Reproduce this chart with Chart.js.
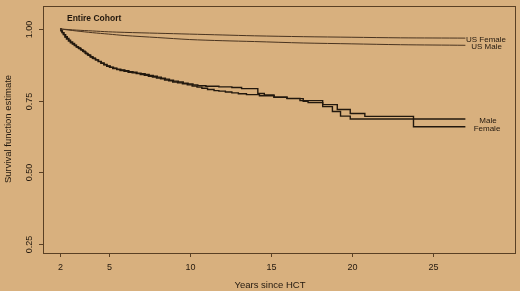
<!DOCTYPE html>
<html>
<head>
<meta charset="utf-8">
<script src="https://cdn.jsdelivr.net/npm/chart.js@4"></script>
<style>
  html, body { margin: 0; padding: 0; background: #D8B07E; }
  #wrap { width: 520px; height: 291px; }
</style>
</head>
<body>
<div id="wrap"><canvas id="survChart" width="520" height="291"></canvas></div>
<script>
// Kaplan-Meier estimates
const femaleYears = [2.00, 2.08, 2.15, 2.25, 2.35, 2.45, 2.55, 2.65, 2.78, 2.90, 3.02, 3.15, 3.30, 3.45, 3.60, 3.75, 3.90, 4.05, 4.20, 4.38, 4.55, 4.72, 4.90, 5.10, 5.30, 5.50, 5.75, 6.00, 6.25, 6.50, 6.75, 7.00, 7.25, 7.50, 7.75, 8.00, 8.25, 8.50, 8.75, 9.00, 9.30, 9.60, 9.90, 10.20, 10.50, 11.00, 11.80, 12.60, 13.20, 14.20, 14.60, 15.20, 16.00, 16.80, 18.20, 19.10, 19.90, 20.80, 23.80, 27.00];
const femaleSurv  = [1.000, 0.993, 0.987, 0.980, 0.973, 0.967, 0.961, 0.955, 0.949, 0.943, 0.937, 0.932, 0.926, 0.920, 0.913, 0.908, 0.902, 0.897, 0.892, 0.887, 0.881, 0.876, 0.871, 0.867, 0.863, 0.860, 0.857, 0.854, 0.851, 0.849, 0.846, 0.844, 0.841, 0.838, 0.835, 0.832, 0.828, 0.825, 0.821, 0.818, 0.815, 0.811, 0.808, 0.805, 0.802, 0.800, 0.798, 0.796, 0.792, 0.775, 0.770, 0.762, 0.758, 0.750, 0.736, 0.719, 0.705, 0.695, 0.659, 0.659];

const maleYears = [2.00, 2.05, 2.12, 2.20, 2.30, 2.40, 2.52, 2.64, 2.76, 2.88, 3.00, 3.12, 3.26, 3.40, 3.55, 3.70, 3.85, 4.00, 4.18, 4.35, 4.52, 4.70, 4.88, 5.05, 5.25, 5.50, 5.70, 5.95, 6.20, 6.45, 6.70, 6.95, 7.20, 7.45, 7.70, 7.95, 8.20, 8.45, 8.70, 8.95, 9.25, 9.55, 9.85, 10.15, 10.45, 10.75, 11.10, 11.50, 11.80, 12.20, 12.60, 13.00, 13.50, 14.30, 15.20, 16.00, 17.00, 17.30, 18.20, 18.80, 19.30, 19.90, 27.00];
const maleSurv  = [1.000, 0.994, 0.987, 0.980, 0.972, 0.965, 0.958, 0.952, 0.947, 0.942, 0.938, 0.934, 0.928, 0.922, 0.915, 0.909, 0.903, 0.898, 0.892, 0.886, 0.880, 0.875, 0.870, 0.866, 0.862, 0.858, 0.855, 0.852, 0.849, 0.847, 0.844, 0.841, 0.838, 0.835, 0.832, 0.829, 0.826, 0.822, 0.819, 0.815, 0.812, 0.809, 0.805, 0.801, 0.797, 0.793, 0.789, 0.785, 0.783, 0.780, 0.777, 0.774, 0.771, 0.767, 0.762, 0.757, 0.748, 0.743, 0.729, 0.712, 0.696, 0.686, 0.686];

// expected survival of the US general population
const usYears  = [2, 3, 4, 5, 6, 8, 10, 12, 14, 17, 20, 23, 27];
const usFemale = [1.000, 0.996, 0.993, 0.990, 0.988, 0.985, 0.982, 0.979, 0.976, 0.973, 0.971, 0.969, 0.968];
const usMale   = [1.000, 0.993, 0.987, 0.982, 0.977, 0.970, 0.963, 0.959, 0.956, 0.951, 0.948, 0.945, 0.943];

// axis ticks
const xTicks = [2, 5, 10, 15, 20, 25];
const yTicks = [0.25, 0.50, 0.75, 1.00];

const ink = '#22180e';
const boxColor = '#5a4024';

function toPoints(xs, ys) {
    return xs.map((x, i) => ({ x: x, y: ys[i] }));
}

// R-style box, ticks and labels drawn from the chart scales
const rAxes = {
    id: 'rAxes',
    beforeDraw(chart) {
        const ctx = chart.ctx;
        ctx.save();
        ctx.fillStyle = '#D8B07E';
        ctx.fillRect(0, 0, chart.width, chart.height);
        ctx.restore();
    },
    afterDraw(chart) {
        const ctx = chart.ctx;
        const area = chart.chartArea;
        const xs = chart.scales.x;
        const ys = chart.scales.y;
        ctx.save();
        ctx.strokeStyle = boxColor;
        ctx.lineWidth = 1;
        ctx.strokeRect(area.left + 0.5, area.top + 0.5, area.right - area.left, area.bottom - area.top);

        ctx.fillStyle = ink;
        ctx.font = '9px "Liberation Sans", Arial, sans-serif';
        ctx.textAlign = 'center';
        ctx.textBaseline = 'middle';
        xTicks.forEach(t => {
            const px = Math.round(xs.getPixelForValue(t)) + 0.5;
            ctx.beginPath();
            ctx.moveTo(px, area.bottom);
            ctx.lineTo(px, area.bottom + 4);
            ctx.stroke();
            ctx.fillText(String(t), px, 268);
        });
        yTicks.forEach(t => {
            const py = Math.round(ys.getPixelForValue(t)) + 0.5;
            ctx.beginPath();
            ctx.moveTo(area.left, py);
            ctx.lineTo(area.left - 4, py);
            ctx.stroke();
            ctx.save();
            ctx.translate(29.5, py);
            ctx.rotate(-Math.PI / 2);
            ctx.fillText(t.toFixed(2), 0, 0);
            ctx.restore();
        });

        // axis titles
        ctx.font = '9.5px "Liberation Sans", Arial, sans-serif';
        ctx.fillText('Years since HCT', 270, 285);
        ctx.save();
        ctx.translate(8, 129);
        ctx.rotate(-Math.PI / 2);
        ctx.fillText('Survival function estimate', 0, 0);
        ctx.restore();

        // panel title
        ctx.font = 'bold 8.5px "Liberation Sans", Arial, sans-serif';
        ctx.textAlign = 'left';
        ctx.fillText('Entire Cohort', 67, 19);

        // curve labels
        ctx.font = '8px "Liberation Sans", Arial, sans-serif';
        ctx.textAlign = 'center';
        ctx.fillText('US Female', 486, 39.5);
        ctx.fillText('US Male', 486.5, 47);
        ctx.fillText('Male', 488, 121);
        ctx.fillText('Female', 487, 128.5);
        ctx.restore();
    }
};

const survChart = new Chart(document.getElementById('survChart'), {
    type: 'line',
    data: {
        datasets: [
            {
                label: 'US Female',
                data: toPoints(usYears, usFemale),
                borderColor: '#4a3420',
                borderWidth: 1,
                tension: 0.3,
                pointRadius: 0
            },
            {
                label: 'US Male',
                data: toPoints(usYears, usMale),
                borderColor: '#4a3420',
                borderWidth: 1,
                tension: 0.3,
                pointRadius: 0
            },
            {
                label: 'Male',
                data: toPoints(maleYears, maleSurv),
                borderColor: ink,
                borderWidth: 1.4,
                stepped: 'before',
                pointRadius: 0
            },
            {
                label: 'Female',
                data: toPoints(femaleYears, femaleSurv),
                borderColor: ink,
                borderWidth: 1.4,
                stepped: 'before',
                pointRadius: 0
            }
        ]
    },
    options: {
        responsive: false,
        animation: false,
        devicePixelRatio: 1,
        layout: { padding: { left: 43, right: 5, top: 6, bottom: 38 } },
        scales: {
            x: { type: 'linear', min: 0.952, max: 30.06, display: false },
            y: { type: 'linear', min: 0.2186, max: 1.080, display: false }
        },
        plugins: {
            legend: { display: false },
            tooltip: { enabled: false }
        }
    },
    plugins: [rAxes]
});
</script>
</body>
</html>
